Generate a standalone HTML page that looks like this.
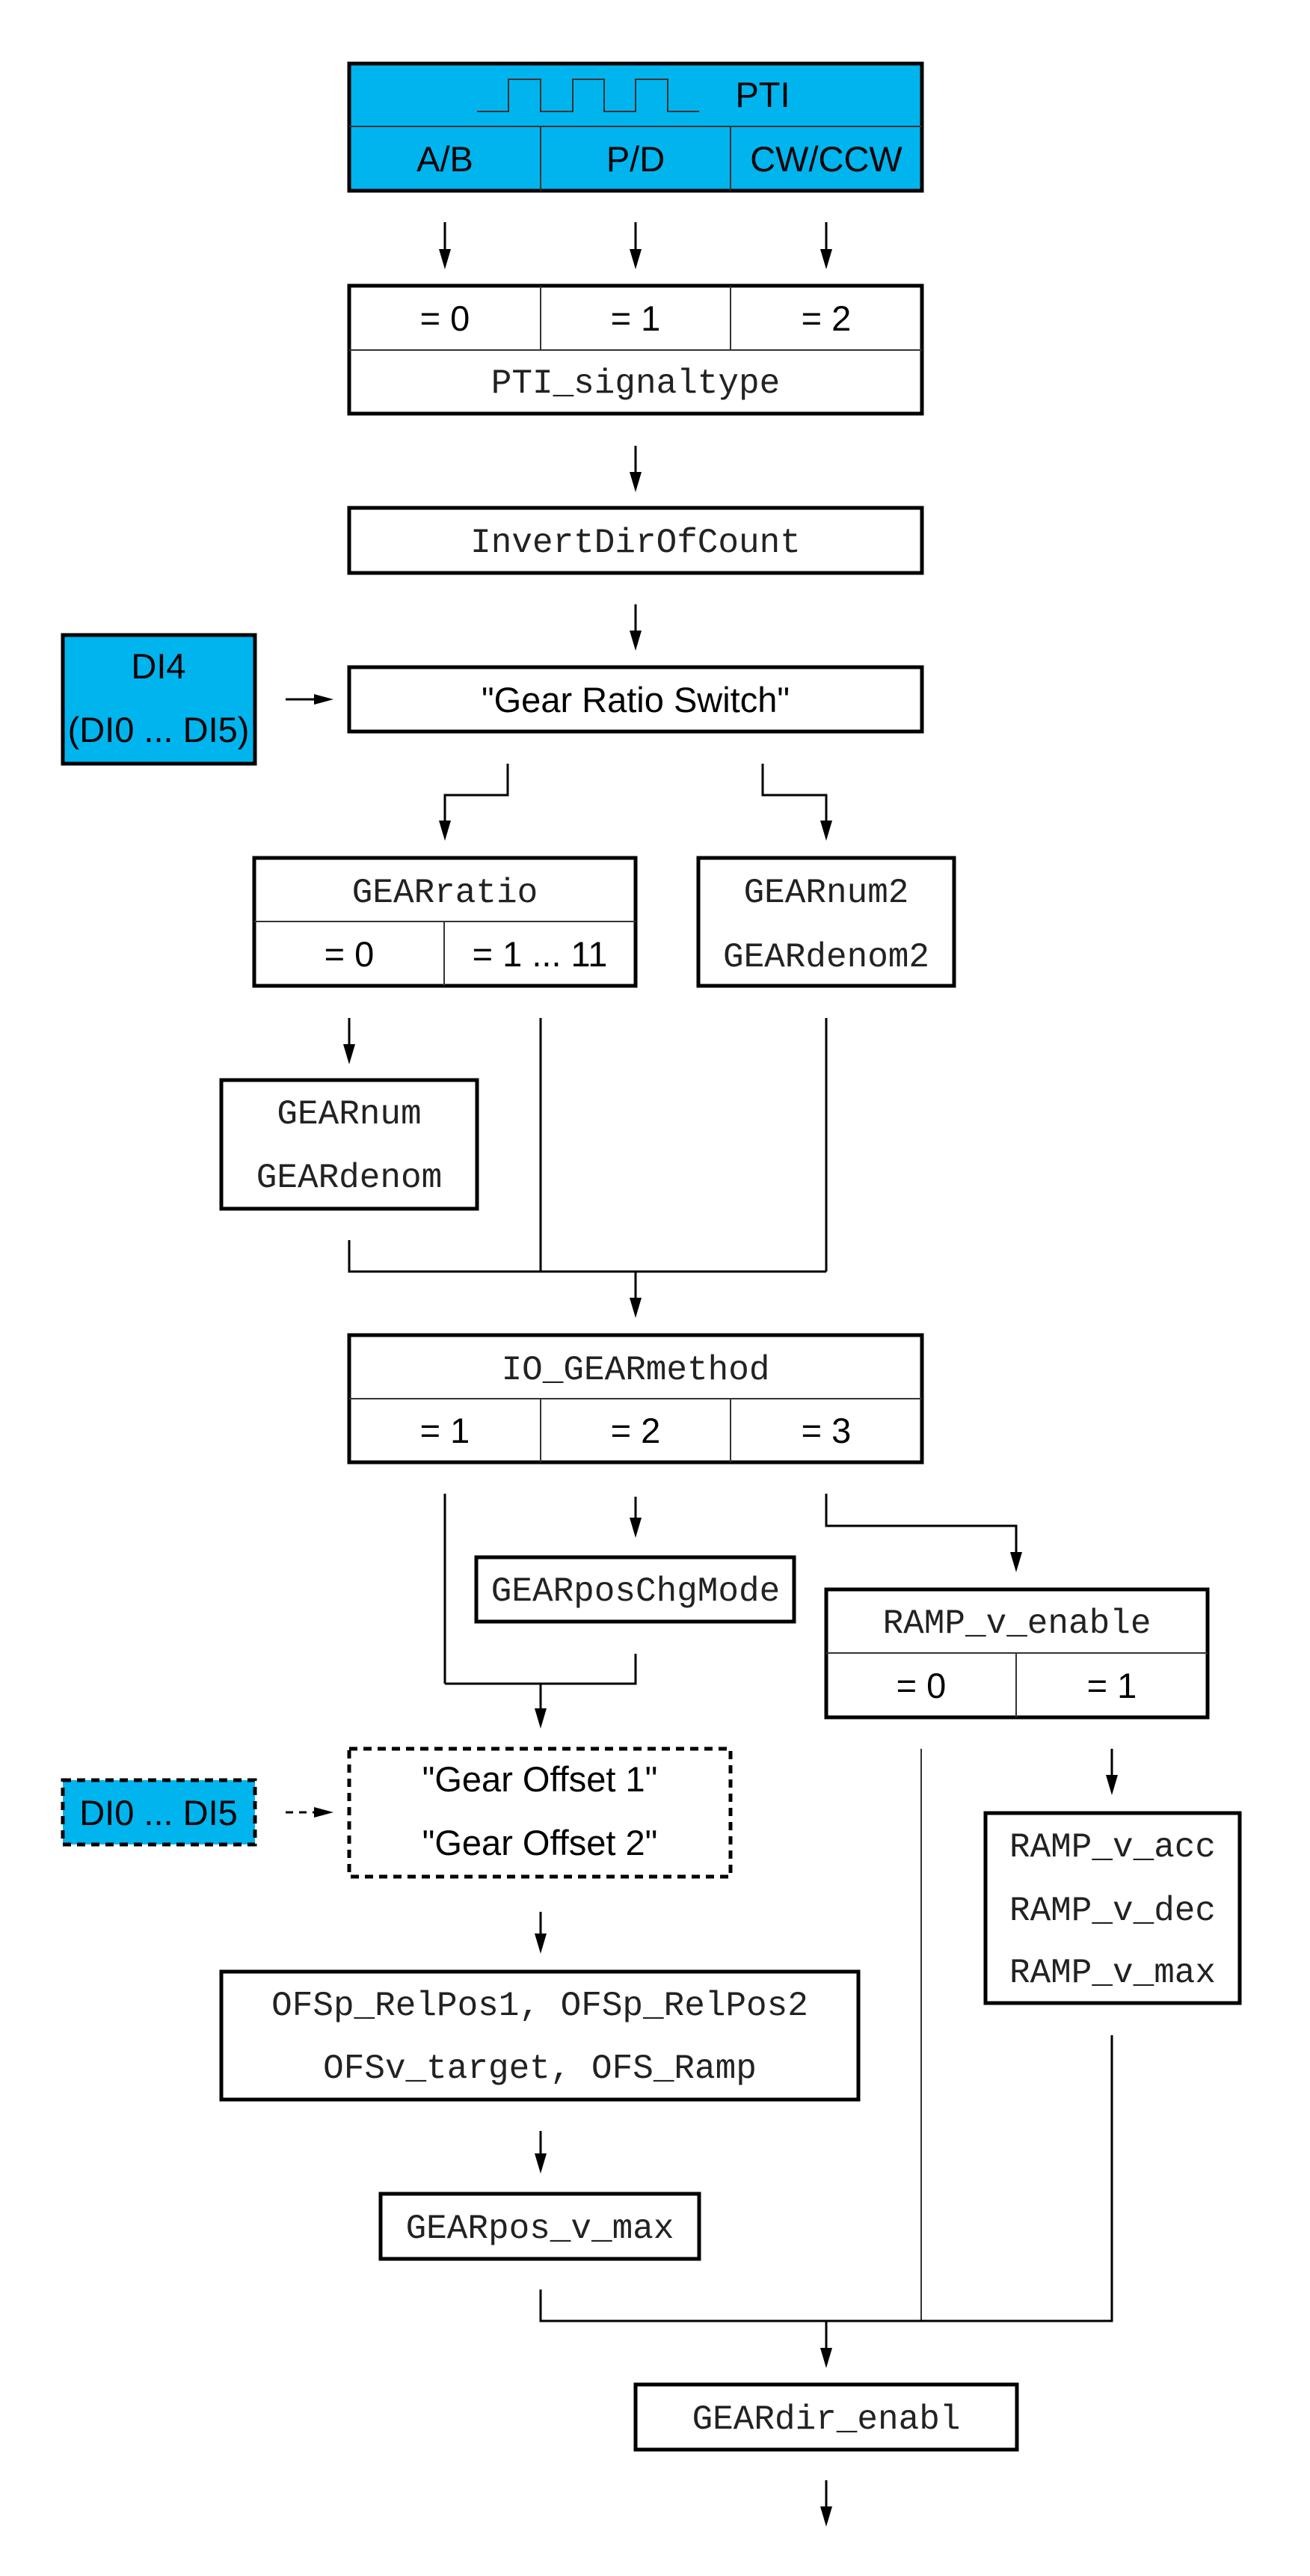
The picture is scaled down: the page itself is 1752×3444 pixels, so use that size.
<!DOCTYPE html>
<html><head><meta charset="utf-8"><style>
html,body{margin:0;padding:0;background:#fff}
svg{display:block}
.s{font-family:"Liberation Sans",sans-serif;font-size:47px;text-anchor:middle;fill:#000}
.m{font-family:"Liberation Mono",monospace;font-size:46px;text-anchor:middle;fill:#222}
.b{fill:none;stroke:#000;stroke-width:5}
.d{stroke:#333;stroke-width:2;fill:none}
.l{stroke:#000;stroke-width:3;fill:none}
</style></head><body>
<svg width="1752" height="3444" viewBox="0 0 1752 3444" xmlns="http://www.w3.org/2000/svg">
<defs>
<marker id="ah" markerWidth="12" markerHeight="26" refX="6" refY="26" orient="auto" markerUnits="userSpaceOnUse" viewBox="0 0 12 26">
</marker>
</defs>
<!-- PTI box -->
<rect x="467" y="85" width="766" height="170" fill="#00b4ee" stroke="#000" stroke-width="5"/>
<line class="d" x1="467" y1="169" x2="1233" y2="169"/>
<line class="d" x1="723" y1="169" x2="723" y2="255"/>
<line class="d" x1="977" y1="169" x2="977" y2="255"/>
<polyline class="d" points="638,149 680,149 680,106 723,106 723,149 766,149 766,106 808,106 808,149 850,149 850,106 893,106 893,149 935,149"/>
<text class="s" x="1020" y="143">PTI</text>
<text class="s" x="595" y="229">A/B</text>
<text class="s" x="850" y="229">P/D</text>
<text class="s" x="1105" y="229">CW/CCW</text>

<!-- arrows helper: line + triangle -->
<g fill="#000">
<line class="l" x1="595" y1="297" x2="595" y2="340"/><polygon points="587,333 603,333 595,360"/>
<line class="l" x1="850" y1="297" x2="850" y2="340"/><polygon points="842,333 858,333 850,360"/>
<line class="l" x1="1105" y1="297" x2="1105" y2="340"/><polygon points="1097,333 1113,333 1105,360"/>
</g>

<!-- signal type box -->
<rect class="b" x="467" y="382" width="766" height="171"/>
<line class="d" x1="467" y1="468" x2="1233" y2="468"/>
<line class="d" x1="723" y1="382" x2="723" y2="468"/>
<line class="d" x1="977" y1="382" x2="977" y2="468"/>
<text class="s" x="595" y="442">= 0</text>
<text class="s" x="850" y="442">= 1</text>
<text class="s" x="1105" y="442">= 2</text>
<text class="m" x="850" y="525">PTI_signaltype</text>

<g fill="#000">
<line class="l" x1="850" y1="596" x2="850" y2="640"/><polygon points="842,631 858,631 850,658"/>
</g>
<rect class="b" x="467" y="679" width="766" height="87"/>
<text class="m" x="850" y="738">InvertDirOfCount</text>

<g fill="#000">
<line class="l" x1="850" y1="808" x2="850" y2="852"/><polygon points="842,843 858,843 850,870"/>
</g>
<rect class="b" x="467" y="892" width="766" height="86"/>
<text class="s" x="850" y="952">"Gear Ratio Switch"</text>

<!-- DI4 -->
<rect x="84" y="849" width="257" height="172" fill="#00b4ee" stroke="#000" stroke-width="5"/>
<text class="s" x="212" y="907">DI4</text>
<text class="s" x="212" y="992">(DI0 ... DI5)</text>
<g fill="#000">
<line class="l" x1="382" y1="935" x2="425" y2="935"/><polygon points="420,928 420,942 446,935"/>
</g>

<!-- branches -->
<g fill="#000">
<polyline class="l" points="679,1021 679,1063 595,1063 595,1105"/><polygon points="587,1097 603,1097 595,1124"/>
<polyline class="l" points="1020,1021 1020,1063 1105,1063 1105,1105"/><polygon points="1097,1097 1113,1097 1105,1124"/>
</g>

<!-- GEARratio -->
<rect class="b" x="340" y="1147" width="510" height="171"/>
<line class="d" x1="340" y1="1232" x2="850" y2="1232"/>
<line class="d" x1="594" y1="1232" x2="594" y2="1318"/>
<text class="m" x="595" y="1206">GEARratio</text>
<text class="s" x="467" y="1292">= 0</text>
<text class="s" x="722" y="1292">= 1 ... 11</text>

<!-- GEARnum2 -->
<rect class="b" x="934" y="1147" width="342" height="171"/>
<text class="m" x="1105" y="1206">GEARnum2</text>
<text class="m" x="1105" y="1292">GEARdenom2</text>

<g fill="#000">
<line class="l" x1="467" y1="1361" x2="467" y2="1405"/><polygon points="459,1396 475,1396 467,1423"/>
</g>
<line class="l" x1="723" y1="1361" x2="723" y2="1700"/>
<line class="l" x1="1105" y1="1361" x2="1105" y2="1700"/>

<rect class="b" x="296" y="1444" width="342" height="172"/>
<text class="m" x="467" y="1502">GEARnum</text>
<text class="m" x="467" y="1587">GEARdenom</text>

<polyline class="l" points="467,1658 467,1700 1105,1700"/>
<g fill="#000">
<line class="l" x1="850" y1="1700" x2="850" y2="1744"/><polygon points="842,1735 858,1735 850,1762"/>
</g>

<!-- IO_GEARmethod -->
<rect class="b" x="467" y="1785" width="766" height="170"/>
<line class="d" x1="467" y1="1870" x2="1233" y2="1870"/>
<line class="d" x1="723" y1="1870" x2="723" y2="1955"/>
<line class="d" x1="977" y1="1870" x2="977" y2="1955"/>
<text class="m" x="850" y="1844">IO_GEARmethod</text>
<text class="s" x="595" y="1929">= 1</text>
<text class="s" x="850" y="1929">= 2</text>
<text class="s" x="1105" y="1929">= 3</text>

<line class="l" x1="595" y1="1997" x2="595" y2="2251"/>
<g fill="#000">
<line class="l" x1="850" y1="2001" x2="850" y2="2038"/><polygon points="842,2029 858,2029 850,2056"/>
</g>
<rect class="b" x="637" y="2082" width="425" height="86"/>
<text class="m" x="850" y="2140">GEARposChgMode</text>
<polyline class="l" points="850,2211 850,2251 595,2251"/>
<g fill="#000">
<line class="l" x1="723" y1="2251" x2="723" y2="2293"/><polygon points="715,2284 731,2284 723,2311"/>
</g>

<g fill="#000">
<polyline class="l" points="1105,1997 1105,2040 1359,2040 1359,2084"/><polygon points="1351,2075 1367,2075 1359,2102"/>
</g>
<rect class="b" x="1105" y="2125" width="510" height="171"/>
<line class="d" x1="1105" y1="2210" x2="1615" y2="2210"/>
<line class="d" x1="1359" y1="2210" x2="1359" y2="2296"/>
<text class="m" x="1360" y="2183">RAMP_v_enable</text>
<text class="s" x="1232" y="2270">= 0</text>
<text class="s" x="1487" y="2270">= 1</text>

<!-- Gear offset -->
<rect x="84" y="2380" width="257" height="86" fill="#00b4ee" stroke="#000" stroke-width="5" stroke-dasharray="11,8"/>
<text class="s" x="212" y="2440">DI0 ... DI5</text>
<g fill="#000">
<line class="l" x1="382" y1="2423" x2="425" y2="2423" stroke-dasharray="10,8"/><polygon points="420,2416 420,2430 446,2423"/>
</g>
<rect class="b" x="467" y="2338" width="510" height="171" stroke-dasharray="11,8"/>
<text class="s" x="722" y="2395">"Gear Offset 1"</text>
<text class="s" x="722" y="2480">"Gear Offset 2"</text>

<line class="d" x1="1232" y1="2338" x2="1232" y2="3103"/>
<g fill="#000">
<line class="l" x1="1487" y1="2338" x2="1487" y2="2382"/><polygon points="1479,2373 1495,2373 1487,2400"/>
</g>
<rect class="b" x="1318" y="2424" width="340" height="254"/>
<text class="m" x="1488" y="2482">RAMP_v_acc</text>
<text class="m" x="1488" y="2567">RAMP_v_dec</text>
<text class="m" x="1488" y="2650">RAMP_v_max</text>
<polyline class="l" points="1487,2721 1487,3103 723,3103 723,3061"/>

<g fill="#000">
<line class="l" x1="723" y1="2556" x2="723" y2="2594"/><polygon points="715,2585 731,2585 723,2612"/>
</g>
<rect class="b" x="296" y="2636" width="852" height="171"/>
<text class="m" x="722" y="2694">OFSp_RelPos1, OFSp_RelPos2</text>
<text class="m" x="722" y="2778">OFSv_target, OFS_Ramp</text>

<g fill="#000">
<line class="l" x1="723" y1="2849" x2="723" y2="2888"/><polygon points="715,2879 731,2879 723,2906"/>
</g>
<rect class="b" x="509" y="2933" width="426" height="87"/>
<text class="m" x="722" y="2992">GEARpos_v_max</text>

<g fill="#000">
<line class="l" x1="1105" y1="3103" x2="1105" y2="3148"/><polygon points="1097,3139 1113,3139 1105,3166"/>
</g>
<rect class="b" x="850" y="3188" width="510" height="87"/>
<text class="m" x="1105" y="3247">GEARdir_enabl</text>
<g fill="#000">
<line class="l" x1="1105" y1="3316" x2="1105" y2="3360"/><polygon points="1097,3351 1113,3351 1105,3378"/>
</g>
</svg>
</body></html>
